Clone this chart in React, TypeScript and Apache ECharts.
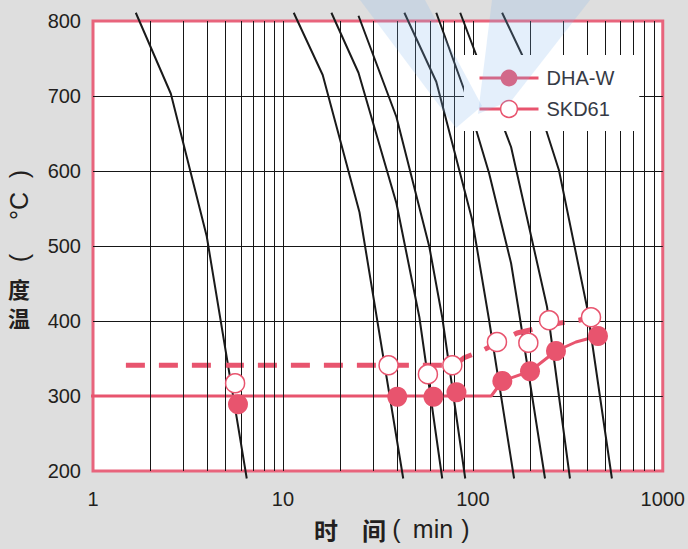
import React, { useEffect, useRef } from 'react';
import * as echarts from 'echarts';

const PINK = '#e8546e';
const BORDER = '#e8647c';
const INK = '#231f20';
const GRIDLINE = '#161616';

// vertical grid lines of the log axis (time, min)
const X_GRID = [2, 3, 4, 5, 6, 7, 8, 9, 10, 20, 30, 40, 50, 60, 70, 80, 90, 100, 200, 300, 400, 500, 600, 700, 800, 900];

// black cooling curves: [time (min), temperature (°C)]
const CURVE_A = [[1.68, 811], [2.57, 703], [3.97, 513], [6.45, 190]];
const CURVE_B = [[11.4, 811], [16.2, 728], [25.3, 545], [43.0, 190]];
const CURVE_C = [[18.0, 811], [25.0, 731], [39.6, 557], [52.3, 405], [69.0, 190]];
const CURVE_D = [[25.0, 807], [39.6, 672], [59.0, 499], [69.0, 405], [91.2, 190]];
const CURVE_E = [[43.6, 811], [64.2, 719], [99.2, 535], [121.8, 401], [164.9, 190]];
const CURVE_F = [[64.2, 811], [90.1, 708], [121.8, 597], [159.0, 477], [175.2, 411], [239.9, 190]];
const CURVE_G = [[85.8, 811], [159.0, 632], [245.8, 419], [324.6, 190]];
const CURVE_H = [[142.6, 811], [181.6, 755], [284.1, 601], [398.7, 419], [539.8, 190]];
const CURVES = [CURVE_A, CURVE_B, CURVE_C, CURVE_D, CURVE_E, CURVE_F, CURVE_G, CURVE_H];

// DHA-W
const DHA_LINE = [[0.965, 300], [125, 300], [143, 320], [200, 333], [274, 360], [349, 372], [456, 380]];
const DHA_POINTS = [[5.8, 289], [40, 299], [62, 299], [82, 305], [143, 320], [200, 333], [274, 360], [456, 380]];

// SKD61
const SKD_LINE = [[1.49, 341], [80, 341], [90, 351], [113, 361], [171, 384], [284, 397], [362, 401], [419, 405]];
const SKD_POINTS = [[5.6, 317], [36, 341], [58, 329], [78, 341], [134, 372], [196, 371], [252, 401], [419, 405]];

const LATIN = '"Liberation Sans", Arial, sans-serif';
const CJK = '"Noto Sans CJK SC", sans-serif';

function buildOption() {
  const curveSeries = CURVES.map((c) => ({
    type: 'line',
    data: c,
    symbol: 'none',
    clip: false,
    silent: true,
    z: 3,
    lineStyle: { color: '#1a1a1a', width: 2 },
  }));

  const txt = (text: string, x: number, y: number, font: string, rotation = 0) => ({
    type: 'text',
    x,
    y,
    rotation,
    silent: true,
    style: {
      text,
      font,
      fill: INK,
      align: 'center',
      verticalAlign: 'middle',
      textAlign: 'center',
      textVerticalAlign: 'middle',
    },
  });

  const WM = 'rgba(130,180,235,0.22)';

  return {
    animation: false,
    backgroundColor: '#dedede',
    grid: {
      left: 93,
      top: 21,
      right: 24,
      bottom: 78,
      show: true,
      backgroundColor: '#ffffff',
      borderColor: BORDER,
      borderWidth: 3,
    },
    xAxis: {
      type: 'log',
      logBase: 10,
      min: 1,
      max: 1000,
      axisLine: { show: false },
      axisTick: { show: false },
      splitLine: { show: false },
      axisLabel: {
        fontSize: 20,
        color: INK,
        fontFamily: LATIN,
        margin: 18,
        formatter: (v: number) => String(Math.round(v)),
      },
    },
    yAxis: {
      type: 'value',
      min: 200,
      max: 800,
      interval: 100,
      axisLine: { show: false },
      axisTick: { show: false },
      axisLabel: { fontSize: 20, color: INK, fontFamily: LATIN, margin: 12 },
      splitLine: {
        show: true,
        showMinLine: false,
        showMaxLine: false,
        lineStyle: { color: GRIDLINE, width: 1 },
      },
    },
    legend: {
      orient: 'vertical',
      left: 464,
      top: 55,
      z: 10,
      padding: [13, 25, 12, 14],
      itemWidth: 59,
      itemHeight: 21,
      itemGap: 11,
      backgroundColor: '#ffffff',
      selectedMode: false,
      textStyle: { fontSize: 20, color: '#363a45', fontFamily: LATIN, padding: [0, 0, 0, 3] },
      data: [
        { name: 'DHA-W', itemStyle: { color: PINK, borderWidth: 0 }, lineStyle: { color: PINK, width: 3, type: 'solid' } },
        { name: 'SKD61', itemStyle: { color: '#ffffff', borderColor: PINK, borderWidth: 1.5 }, lineStyle: { color: PINK, width: 3, type: 'solid' } },
      ],
    },
    graphic: [
      txt('温', 19, 317, `bold 22px ${CJK}`),
      txt('度', 19, 288, `bold 22px ${CJK}`),
      txt('(', 19, 258, `25px ${LATIN}`, Math.PI / 2),
      txt('°C', 19, 206, `25px ${LATIN}`, Math.PI / 2),
      txt(')', 19, 174, `25px ${LATIN}`, Math.PI / 2),
      txt('时　间', 350, 529, `bold 24px ${CJK}`),
      txt('(', 396.5, 529, `25px ${LATIN}`),
      txt('min', 433, 529, `25px ${LATIN}`),
      txt(')', 465.5, 529, `25px ${LATIN}`),
      // faint watermark logo over the top of the chart
      {
        type: 'polygon',
        silent: true,
        z: 50,
        shape: { points: [[360, 0], [425, 0], [482, 106], [456, 128]] },
        style: { fill: WM },
      },
      {
        type: 'polygon',
        silent: true,
        z: 50,
        shape: { points: [[492, 0], [590, 0], [512, 100], [478, 114]] },
        style: { fill: WM },
      },
    ],
    series: [
      {
        type: 'line',
        data: [[1, 200]],
        symbol: 'none',
        silent: true,
        z: 1,
        lineStyle: { opacity: 0 },
        markLine: {
          silent: true,
          symbol: ['none', 'none'],
          label: { show: false },
          emphasis: { disabled: true },
          lineStyle: { color: GRIDLINE, width: 1, type: 'solid' },
          data: X_GRID.map((v) => ({ xAxis: v })),
        },
      },
      ...curveSeries,
      {
        name: 'DHA-W',
        type: 'line',
        data: DHA_LINE,
        symbol: 'circle',
        showSymbol: false,
        clip: false,
        z: 4,
        itemStyle: { color: PINK },
        lineStyle: { color: PINK, width: 3 },
      },
      {
        type: 'scatter',
        data: DHA_POINTS,
        symbolSize: 20,
        z: 5,
        silent: true,
        itemStyle: { color: PINK, opacity: 1 },
      },
      {
        name: 'SKD61',
        type: 'line',
        data: SKD_LINE,
        symbol: 'circle',
        showSymbol: false,
        clip: false,
        z: 4,
        itemStyle: { color: '#ffffff', borderColor: PINK, borderWidth: 1.5 },
        lineStyle: { color: PINK, width: 5, type: [19, 14] },
      },
      {
        type: 'scatter',
        data: SKD_POINTS,
        symbolSize: 19,
        z: 5,
        silent: true,
        itemStyle: { color: '#ffffff', borderColor: PINK, borderWidth: 1.5, opacity: 1 },
      },
    ],
  };
}

export default function App() {
  const ref = useRef<HTMLDivElement>(null);
  useEffect(() => {
    if (!ref.current) return;
    const chart = echarts.init(ref.current, null, { renderer: 'svg' });
    chart.setOption(buildOption() as any);
    return () => chart.dispose();
  }, []);
  return (
    <div
      ref={ref}
      style={{ position: 'fixed', left: 0, top: 0, width: 688, height: 549 }}
    />
  );
}
